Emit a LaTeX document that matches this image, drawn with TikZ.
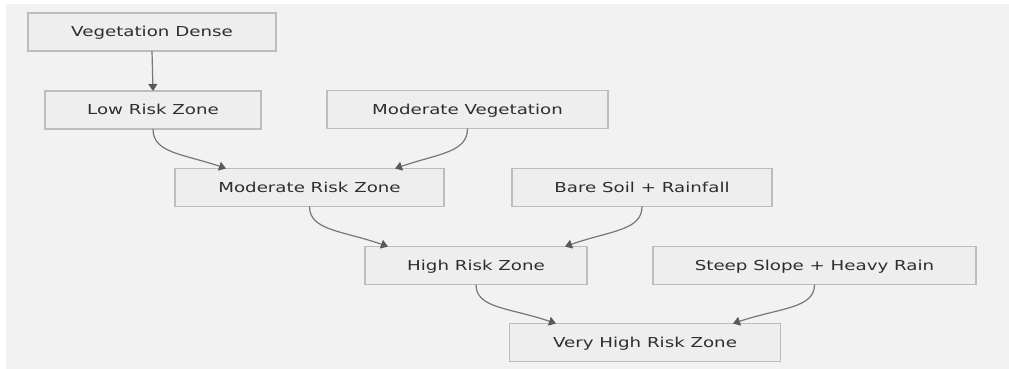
\documentclass[tikz,border=0pt]{standalone}
\usepackage{fontspec}
\setmainfont{DejaVu Sans}[FakeStretch=1.33]
\usetikzlibrary{arrows.meta}
\definecolor{bgfill}{HTML}{F2F2F2}
\definecolor{boxfill}{HTML}{EEEEEE}
\definecolor{boxline}{HTML}{BDBDBD}
\definecolor{edgeline}{HTML}{777777}
\definecolor{tipfill}{HTML}{5A5A5A}
\definecolor{txt}{HTML}{2E2E2E}
\tikzset{
  zone/.style={draw=boxline, fill=boxfill, line width=1.2pt, minimum height=38pt,
    inner sep=0pt, outer sep=0pt, text=txt, text height=10pt, text depth=0pt,
    font=\fontsize{13.7}{16}\selectfont},
  flow/.style={draw=edgeline, line width=1.2pt,
    -{Triangle[length=7pt,width=9pt,fill=tipfill,color=tipfill]}},
}
\begin{document}
\begin{tikzpicture}[x=1pt,y=1pt]
  % canvas
  \useasboundingbox (0,0) rectangle (1009,369);
  \fill[bgfill] (6,0) rectangle (1009,365);

  % boxes (y measured upward)
  \node[zone, minimum width=248pt] (vd)  at (152,337)   {Vegetation Dense};
  \node[zone, minimum width=216pt] (lrz) at (153,259)   {Low Risk Zone};
  \node[zone, minimum width=281pt] (mv)  at (467.5,259.5) {Moderate Vegetation};
  \node[zone, minimum width=269pt] (mrz) at (309.5,181.5) {Moderate Risk Zone};
  \node[zone, minimum width=260pt] (bs)  at (642,181.5) {Bare Soil + Rainfall};
  \node[zone, minimum width=222pt] (hrz) at (476,103.5) {High Risk Zone};
  \node[zone, minimum width=323pt] (ssh) at (814.5,103.5) {Steep Slope + Heavy Rain};
  \node[zone, minimum width=271pt] (vhr) at (645,26.5)  {Very High Risk Zone};

  % connectors
  \draw[flow] (vd.south) -- (lrz.north);
  \draw[flow] (lrz.south) .. controls +(0,-24) and +(-44,15) .. ([xshift=-83.5pt]mrz.north);
  \draw[flow] (mv.south)  .. controls +(0,-24) and +(44,15)  .. ([xshift=85.5pt]mrz.north);
  \draw[flow] (mrz.south) .. controls +(0,-24) and +(-46,16) .. ([xshift=-88pt]hrz.north);
  \draw[flow] (bs.south)  .. controls +(0,-24) and +(46,16)  .. ([xshift=89pt]hrz.north);
  \draw[flow] (hrz.south) .. controls +(0,-24) and +(-47,16) .. ([xshift=-89pt]vhr.north);
  \draw[flow] (ssh.south) .. controls +(0,-24) and +(48,16)  .. ([xshift=88pt]vhr.north);
\end{tikzpicture}
\end{document}
